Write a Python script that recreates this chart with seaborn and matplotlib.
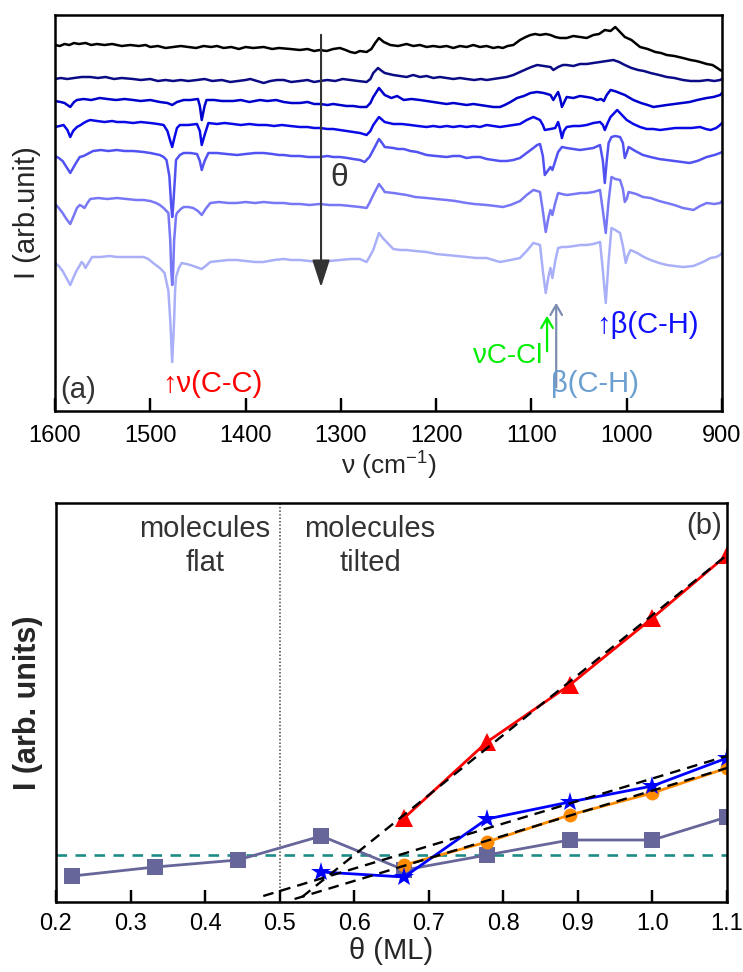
import matplotlib
matplotlib.use("Agg")
import matplotlib.pyplot as plt
from matplotlib.ticker import FixedLocator, FormatStrFormatter
import seaborn as sns
import pandas as pd

# ---------------- data: panel (a) spectra (wavenumber, intensity in arb. units) ----------------
t1_wn = [1600, 1595, 1590, 1585, 1580, 1575, 1568, 1562, 1556, 1548, 1540, 1530, 1521, 1512, 1505, 1500, 1492,
         1484, 1476, 1468, 1460, 1452, 1444, 1436, 1430, 1423, 1415, 1407, 1400, 1392, 1381, 1372, 1365, 1353,
         1343, 1335, 1328, 1322, 1315, 1308, 1301, 1295, 1290, 1285, 1280, 1273, 1268, 1264, 1260, 1255, 1248,
         1240, 1231, 1224, 1217, 1210, 1203, 1196, 1189, 1182, 1175, 1168, 1161, 1154, 1147, 1140, 1135, 1130,
         1125, 1119, 1112, 1106, 1101, 1096, 1091, 1085, 1080, 1075, 1070, 1063, 1056, 1049, 1042, 1035, 1029,
         1023, 1017, 1012, 1007, 1002, 995, 986, 978, 970, 964, 958, 950, 941, 933, 927, 923, 916, 910, 905,
         902, 900]
t1_val = [366, 365, 367, 366, 368, 367, 368, 366, 367, 366, 367, 365, 366, 365, 366, 364, 365,
          363, 364, 365, 364, 363, 365, 364, 365, 363, 364, 362, 364, 363, 364, 362, 363, 362,
          361, 362, 360, 361, 360, 362, 363, 361, 359, 358, 360, 359, 362, 368, 373, 369, 366,
          365, 367, 365, 366, 364, 365, 364, 365, 363, 365, 364, 366, 364, 365, 363, 364, 363,
          365, 366, 371, 374, 376, 377, 376, 377, 376, 374, 373, 373, 375, 374, 373, 376, 377,
          381, 380, 384, 379, 374, 371, 364, 362, 359, 358, 356, 355, 353, 351, 350, 349, 347, 346, 343,
          341, 340]

t2_wn = [1600, 1594, 1587, 1580, 1572, 1563, 1555, 1547, 1538, 1530, 1518, 1510, 1500, 1492, 1484, 1476, 1468,
         1460, 1451, 1443, 1435, 1425, 1416, 1408, 1400, 1395, 1388, 1381, 1374, 1367, 1360, 1352, 1343, 1335,
         1328, 1322, 1314, 1306, 1298, 1290, 1282, 1273, 1269, 1266, 1261, 1257, 1254, 1245, 1238, 1231, 1224,
         1217, 1210, 1203, 1196, 1189, 1182, 1175, 1168, 1160, 1153, 1147, 1140, 1133, 1126, 1119, 1112, 1105,
         1100, 1094, 1087, 1080, 1077, 1072, 1067, 1063, 1056, 1049, 1042, 1035, 1028, 1021, 1014, 1008, 1002,
         995, 988, 982, 975, 966, 958, 950, 941, 933, 923, 915, 908, 902, 900]
t2_val = [332, 333, 332, 333, 334, 334, 333, 334, 332, 333, 332, 331, 332, 330, 331, 330, 331,
          330, 331, 332, 330, 331, 329, 330, 331, 332, 330, 328, 330, 331, 331, 329, 330, 331,
          329, 330, 331, 330, 332, 331, 330, 329, 332, 338, 343, 340, 338, 336, 335, 334, 336,
          334, 335, 333, 334, 333, 332, 333, 332, 331, 332, 331, 332, 333, 334, 336, 339, 342,
          344, 346, 345, 344, 341, 344, 346, 346, 345, 347, 347, 348, 349, 350, 351, 349, 346,
          343, 341, 340, 338, 336, 334, 333, 331, 330, 330, 331, 330, 331, 332]

t3_wn = [1600, 1594, 1590, 1584, 1580, 1577, 1570, 1562, 1553, 1545, 1536, 1527, 1518, 1510, 1500, 1490, 1482,
         1477, 1472, 1465, 1458, 1450, 1448, 1446, 1443, 1441, 1433, 1425, 1413, 1405, 1396, 1385, 1377, 1368,
         1360, 1352, 1343, 1335, 1328, 1322, 1314, 1308, 1301, 1294, 1287, 1280, 1273, 1269, 1266, 1260, 1254,
         1247, 1241, 1234, 1226, 1217, 1210, 1203, 1196, 1189, 1182, 1175, 1168, 1161, 1154, 1147, 1140, 1133,
         1128, 1122, 1115, 1108, 1101, 1094, 1087, 1080, 1077, 1074, 1072, 1070, 1068, 1065, 1063, 1056, 1049,
         1042, 1036, 1031, 1027, 1024, 1021, 1017, 1013, 1010, 1002, 993, 985, 978, 972, 965, 958, 950, 942,
         934, 926, 916, 909, 902, 900]
t3_val = [310, 309, 308, 304, 309, 311, 312, 311, 313, 312, 311, 312, 311, 310, 311, 309, 308,
          306, 309, 311, 311, 312, 305, 291, 305, 311, 311, 310, 310, 311, 309, 311, 310, 311,
          309, 308, 308, 309, 307, 307, 306, 307, 306, 305, 305, 304, 304, 308, 314, 323, 316,
          313, 315, 311, 312, 311, 310, 309, 308, 307, 308, 307, 306, 307, 306, 305, 304, 304,
          306, 309, 313, 315, 318, 319, 318, 316, 311, 316, 319, 313, 304, 310, 314, 313, 315,
          314, 313, 311, 312, 310, 316, 321, 320, 319, 316, 311, 308, 306, 304, 305, 306, 307, 308,
          309, 311, 313, 314, 316, 318]

t4_wn = [1600, 1595, 1591, 1587, 1584, 1581, 1577, 1573, 1570, 1566, 1563, 1556, 1548, 1540, 1535, 1527, 1518,
         1510, 1500, 1492, 1486, 1482, 1479, 1477, 1475, 1472, 1469, 1460, 1451, 1448, 1446, 1443, 1439, 1430,
         1422, 1413, 1405, 1396, 1387, 1378, 1370, 1362, 1353, 1343, 1335, 1328, 1322, 1314, 1308, 1301, 1294,
         1287, 1280, 1273, 1269, 1266, 1260, 1254, 1245, 1236, 1227, 1219, 1210, 1203, 1196, 1189, 1182, 1175,
         1168, 1161, 1154, 1147, 1140, 1133, 1126, 1119, 1112, 1105, 1098, 1091, 1088, 1086, 1080, 1075, 1072,
         1070, 1068, 1066, 1063, 1056, 1049, 1042, 1035, 1028, 1025, 1023, 1020, 1017, 1013, 1010, 1005, 1000,
         993, 986, 979, 972, 965, 957, 949, 941, 932, 923, 917, 912, 906, 902, 900]
t4_val = [284, 285, 286, 281, 274, 280, 284, 286, 288, 290, 291, 290, 289, 290, 289, 289, 288,
          289, 288, 287, 286, 280, 270, 264, 272, 283, 286, 286, 287, 280, 266, 276, 288, 287,
          288, 287, 286, 287, 286, 286, 285, 286, 285, 284, 284, 283, 283, 282, 282, 281, 280,
          279, 278, 276, 280, 286, 294, 289, 287, 287, 286, 285, 284, 285, 284, 285, 284, 285,
          284, 285, 284, 286, 285, 284, 285, 286, 287, 291, 294, 291, 286, 281, 282, 283, 289,
          282, 273, 280, 284, 285, 285, 286, 288, 289, 286, 281, 288, 294, 298, 301, 296, 291,
          287, 284, 282, 282, 281, 282, 283, 283, 283, 284, 282, 281, 283, 286, 288]

t5_wn = [1600, 1596, 1592, 1588, 1584, 1581, 1578, 1574, 1570, 1566, 1562, 1560, 1552, 1544, 1535, 1527, 1518,
         1507, 1500, 1495, 1490, 1486, 1483, 1480, 1478, 1477, 1476, 1474, 1473, 1469, 1465, 1458, 1451, 1448,
         1446, 1443, 1439, 1430, 1420, 1409, 1400, 1390, 1381, 1372, 1365, 1360, 1352, 1343, 1334, 1322, 1314,
         1308, 1301, 1293, 1287, 1280, 1275, 1270, 1266, 1260, 1256, 1254, 1245, 1240, 1234, 1227, 1220, 1210,
         1200, 1189, 1182, 1175, 1168, 1161, 1154, 1147, 1140, 1133, 1126, 1119, 1112, 1105, 1098, 1094, 1091,
         1088, 1086, 1083, 1080, 1078, 1075, 1072, 1068, 1063, 1056, 1049, 1042, 1035, 1028, 1025, 1023, 1021,
         1019, 1016, 1012, 1007, 1004, 1002, 1000, 998, 991, 983, 975, 966, 958, 950, 942, 934, 926, 921, 916,
         908, 902, 900]
t5_val = [255, 253, 250, 244, 238, 243, 248, 254, 255, 257, 259, 260, 261, 260, 261, 260, 260,
          259, 258, 257, 256, 254, 251, 235, 205, 194, 205, 235, 251, 256, 258, 258, 257, 250,
          241, 250, 258, 258, 257, 256, 257, 258, 258, 257, 256, 256, 255, 255, 254, 254, 255,
          254, 254, 253, 252, 251, 249, 254, 261, 272, 267, 264, 263, 262, 262, 260, 259, 256,
          255, 254, 255, 255, 253, 254, 254, 252, 251, 250, 250, 251, 253, 258, 263, 266, 267,
          255, 236, 240, 244, 241, 250, 259, 264, 263, 262, 261, 262, 263, 266, 250, 228, 250,
          268, 274, 275, 274, 268, 253, 258, 264, 260, 256, 254, 252, 251, 250, 249, 248, 250, 252, 254,
          256, 258, 259]

t6_wn = [1600, 1596, 1592, 1588, 1584, 1580, 1577, 1574, 1572, 1569, 1566, 1563, 1555, 1545, 1535, 1525, 1515,
         1507, 1500, 1494, 1490, 1486, 1483, 1481, 1479, 1478, 1477, 1476, 1475, 1473, 1472, 1468, 1465, 1460,
         1455, 1450, 1446, 1442, 1437, 1428, 1418, 1409, 1400, 1390, 1381, 1370, 1360, 1352, 1343, 1333, 1322,
         1312, 1301, 1290, 1280, 1273, 1270, 1266, 1260, 1256, 1254, 1245, 1238, 1231, 1222, 1210, 1200, 1189,
         1180, 1168, 1160, 1147, 1138, 1130, 1122, 1112, 1105, 1098, 1094, 1091, 1088, 1085, 1082, 1080, 1078,
         1075, 1072, 1068, 1063, 1055, 1048, 1042, 1035, 1028, 1025, 1022, 1019, 1016, 1012, 1007, 1004, 1002,
         1000, 998, 990, 983, 975, 966, 958, 950, 941, 935, 930, 923, 916, 908, 902, 900]
t6_val = [207, 203, 198, 192, 187, 196, 203, 206, 205, 203, 208, 212, 213, 212, 213, 212, 211,
          211, 210, 208, 206, 203, 200, 198, 170, 140, 126, 140, 170, 195, 198, 202, 204, 204,
          203, 200, 196, 202, 208, 209, 208, 208, 209, 208, 209, 208, 208, 207, 207, 206, 207,
          206, 206, 205, 204, 203, 208, 216, 227, 222, 219, 218, 217, 216, 214, 213, 212, 211,
          210, 208, 207, 206, 205, 204, 206, 210, 216, 221, 220, 219, 200, 179, 194, 201, 196,
          208, 218, 217, 216, 217, 218, 218, 219, 221, 200, 178, 210, 234, 232, 231, 222, 209,
          212, 219, 217, 214, 213, 210, 208, 206, 203, 202, 201, 205, 208, 207, 208, 210]

t7_wn = [1600, 1596, 1592, 1588, 1584, 1580, 1577, 1575, 1572, 1570, 1568, 1565, 1561, 1552, 1543, 1535, 1525,
         1515, 1507, 1502, 1497, 1490, 1485, 1481, 1479, 1477, 1475, 1474, 1473, 1470, 1467, 1462, 1458, 1452,
         1446, 1442, 1437, 1428, 1418, 1409, 1400, 1390, 1381, 1370, 1360, 1352, 1343, 1333, 1322, 1312, 1301,
         1290, 1280, 1273, 1270, 1266, 1260, 1256, 1252, 1245, 1238, 1231, 1222, 1210, 1200, 1189, 1178, 1168,
         1158, 1147, 1140, 1133, 1122, 1112, 1105, 1098, 1094, 1091, 1088, 1085, 1082, 1080, 1078, 1075, 1072,
         1068, 1063, 1055, 1048, 1042, 1035, 1028, 1025, 1022, 1019, 1016, 1012, 1007, 1004, 1001, 999, 996,
         989, 982, 975, 966, 958, 950, 941, 930, 920, 912, 906, 902, 900]
t7_val = [148, 145, 140, 133, 126, 135, 141, 144, 149, 147, 143, 148, 154, 154, 155, 154, 154,
          154, 154, 152, 148, 143, 138, 120, 90, 49, 90, 120, 134, 143, 148, 147, 146, 144,
          142, 145, 149, 150, 151, 151, 150, 149, 149, 151, 152, 151, 151, 150, 149, 150, 151,
          152, 152, 149, 154, 161, 178, 173, 169, 162, 161, 161, 160, 159, 157, 156, 155, 154,
          153, 153, 151, 149, 151, 153, 160, 168, 167, 166, 140, 118, 135, 143, 133, 150, 163,
          164, 164, 165, 166, 166, 167, 169, 140, 108, 150, 183, 181, 178, 165, 148, 155, 161,
          158, 154, 151, 148, 146, 145, 144, 145, 149, 153, 154, 156, 158]

spec_wn = [t1_wn, t2_wn, t3_wn, t4_wn, t5_wn, t6_wn, t7_wn]
spec_val = [t1_val, t2_val, t3_val, t4_val, t5_val, t6_val, t7_val]
spec_colors = ["#000000", "#0b0b85", "#0000cc", "#0a0ae6", "#5252f2", "#7878f6", "#aab0f8"]

wn_ticks = [1600, 1500, 1400, 1300, 1200, 1100, 1000, 900]

# ---------------- data: panel (b) ----------------
sq_x = [0.222, 0.333, 0.444, 0.556, 0.667, 0.778, 0.889, 1.0, 1.1]
sq_y = [26, 35, 42, 66, 32, 47, 62, 62, 85]
tri_x = [0.667, 0.778, 0.889, 1.0, 1.1]
tri_y = [84, 160, 217, 284, 347]
circ_x = [0.667, 0.778, 0.889, 1.0, 1.1]
circ_y = [37, 60, 87, 109, 134]
star_x = [0.556, 0.667, 0.778, 0.889, 1.0, 1.1]
star_y = [30, 25, 83, 100, 116, 144]
fit_tri_x = [0.53, 1.1]
fit_tri_y = [5, 347]
fit_star_x = [0.478, 1.1]
fit_star_y = [6, 146]
fit_circ_x = [0.52, 1.1]
fit_circ_y = [3, 134]
flat_level = 47
theta_ticks = [0.2, 0.3, 0.4, 0.5, 0.6, 0.7, 0.8, 0.9, 1.0, 1.1]

# ---------------- style ----------------
sns.set_theme(style="ticks", rc={"xtick.direction": "in", "xtick.major.size": 9,
                                 "xtick.major.width": 1.6, "xtick.color": "black",
                                 "axes.edgecolor": "black", "axes.linewidth": 1.8})
plt.rcParams["font.family"] = ["Liberation Sans", "DejaVu Sans"]
plt.rcParams["mathtext.fontset"] = "custom"
plt.rcParams["mathtext.rm"] = "Liberation Sans"

W, H = 743, 972
fig = plt.figure(figsize=(W / 100, H / 100), dpi=100)
ax1 = fig.add_axes([55 / W, 1 - 411 / H, (722 - 55) / W, (411 - 15) / H])
ax2 = fig.add_axes([56 / W, 1 - 902 / H, (727 - 56) / W, (902 - 503) / H])

# ---------------- panel (a) ----------------
for i, (wn, val) in enumerate(zip(spec_wn, spec_val)):
    df = pd.DataFrame({"wn": wn, "I": val})
    sns.lineplot(data=df, x="wn", y="I", ax=ax1, color=spec_colors[i], lw=1.8,
                 estimator=None, sort=False)

ax1.set_xlim(1600, 900)
ax1.set_ylim(0, 396)
ax1.xaxis.set_major_locator(FixedLocator(wn_ticks))
ax1.xaxis.set_major_formatter(FormatStrFormatter("%d"))
ax1.set_yticks([])
ax1.tick_params(axis="x", which="major", direction="in", length=9, width=1.6, pad=10, labelsize=17,
                color="black", labelcolor="black", bottom=True, top=False)
ax1.set_xlabel(r"ν (cm$^{-1}$)", fontsize=19, labelpad=1)
ax1.set_ylabel("I (arb.unit)", fontsize=21, labelpad=10)

# theta arrow
ax1.annotate("", xy=(1320.8, 121), xytext=(1320.8, 379),
             arrowprops=dict(arrowstyle="-|>,head_length=1.4,head_width=0.45", color="#333333", lw=1.5))
ax1.text(1311, 233, "θ", fontsize=23, color="#333333", ha="left", va="center")
ax1.text(1594, 21, "(a)", fontsize=21, color="#333333", ha="left", va="center")
ax1.text(1488, 27, "↑ν(C-C)", fontsize=21, color="#ff0000", ha="left", va="center")
ax1.text(1089, 55, "νC-Cl", fontsize=20, color="#00ee00", ha="right", va="center")
ax1.annotate("", xy=(1083.6, 98), xytext=(1083.6, 57),
             arrowprops=dict(arrowstyle="->,head_length=0.6,head_width=0.35", color="#00ee00", lw=1.6))
ax1.annotate("", xy=(1074, 111), xytext=(1074, 21),
             arrowprops=dict(arrowstyle="->,head_length=0.6,head_width=0.35", color="#7b8db0", lw=1.6))
ax1.text(1079, 27, "β(C-H)", fontsize=21, color="#6a9fd0", ha="left", va="center")
ax1.text(1032, 86, "↑β(C-H)", fontsize=21, color="#1010ff", ha="left", va="center")

# ---------------- panel (b) ----------------
sns.lineplot(x=sq_x, y=sq_y, ax=ax2, color="#66669a", lw=2.0, marker="s", markersize=11,
             markeredgewidth=0, estimator=None, sort=False)
sns.lineplot(x=tri_x, y=tri_y, ax=ax2, color="#ff0000", lw=2.0, marker="^", markersize=13,
             markeredgewidth=0, estimator=None, sort=False)
sns.lineplot(x=circ_x, y=circ_y, ax=ax2, color="#ff8c00", lw=2.0, marker="o", markersize=10,
             markeredgewidth=0, estimator=None, sort=False)
sns.lineplot(x=star_x, y=star_y, ax=ax2, color="#0000ff", lw=2.0, marker="*", markersize=15,
             markeredgewidth=0, estimator=None, sort=False)
for fx, fy in [(fit_tri_x, fit_tri_y), (fit_star_x, fit_star_y), (fit_circ_x, fit_circ_y)]:
    sns.lineplot(x=fx, y=fy, ax=ax2, color="black", lw=1.7, estimator=None, sort=False,
                 linestyle=(0, (4.5, 3)))
ax2.axhline(flat_level, color="#1e8c86", lw=1.9, linestyle=(0, (4, 3.2)), zorder=1)
ax2.axvline(0.5, color="#444444", lw=1.1, linestyle=(0, (1, 1.3)), zorder=1)

ax2.set_xlim(0.2, 1.1)
ax2.set_ylim(0, 399)
ax2.xaxis.set_major_locator(FixedLocator(theta_ticks))
ax2.xaxis.set_major_formatter(FormatStrFormatter("%.1f"))
ax2.set_yticks([])
ax2.tick_params(axis="x", which="major", direction="in", length=9, width=1.6, pad=8, labelsize=17,
                color="black", labelcolor="black", bottom=True, top=False)
ax2.set_xlabel("θ (ML)", fontsize=21, labelpad=1)
ax2.set_ylabel("I (arb. units)", fontsize=22, fontweight="bold", labelpad=9)

ax2.text(0.400, 356, "molecules\nflat", fontsize=21, color="#333333", ha="center", va="center",
         linespacing=1.25)
ax2.text(0.621, 356, "molecules\ntilted", fontsize=21, color="#333333", ha="center", va="center",
         linespacing=1.25)
ax2.text(1.093, 376, "(b)", fontsize=21, color="#333333", ha="right", va="center")

# inward tick marks drawn along the bottom axis at the tick positions (same size as the axis ticks)
for ax, ticks, frac in ((ax1, wn_ticks, 12.5 / 396), (ax2, theta_ticks, 12.5 / 399)):
    ax.vlines(ticks, 0, frac, transform=ax.get_xaxis_transform(), colors="black", lw=1.6,
              clip_on=False, zorder=3)

fig.canvas.draw()
fig.savefig("out.png")
